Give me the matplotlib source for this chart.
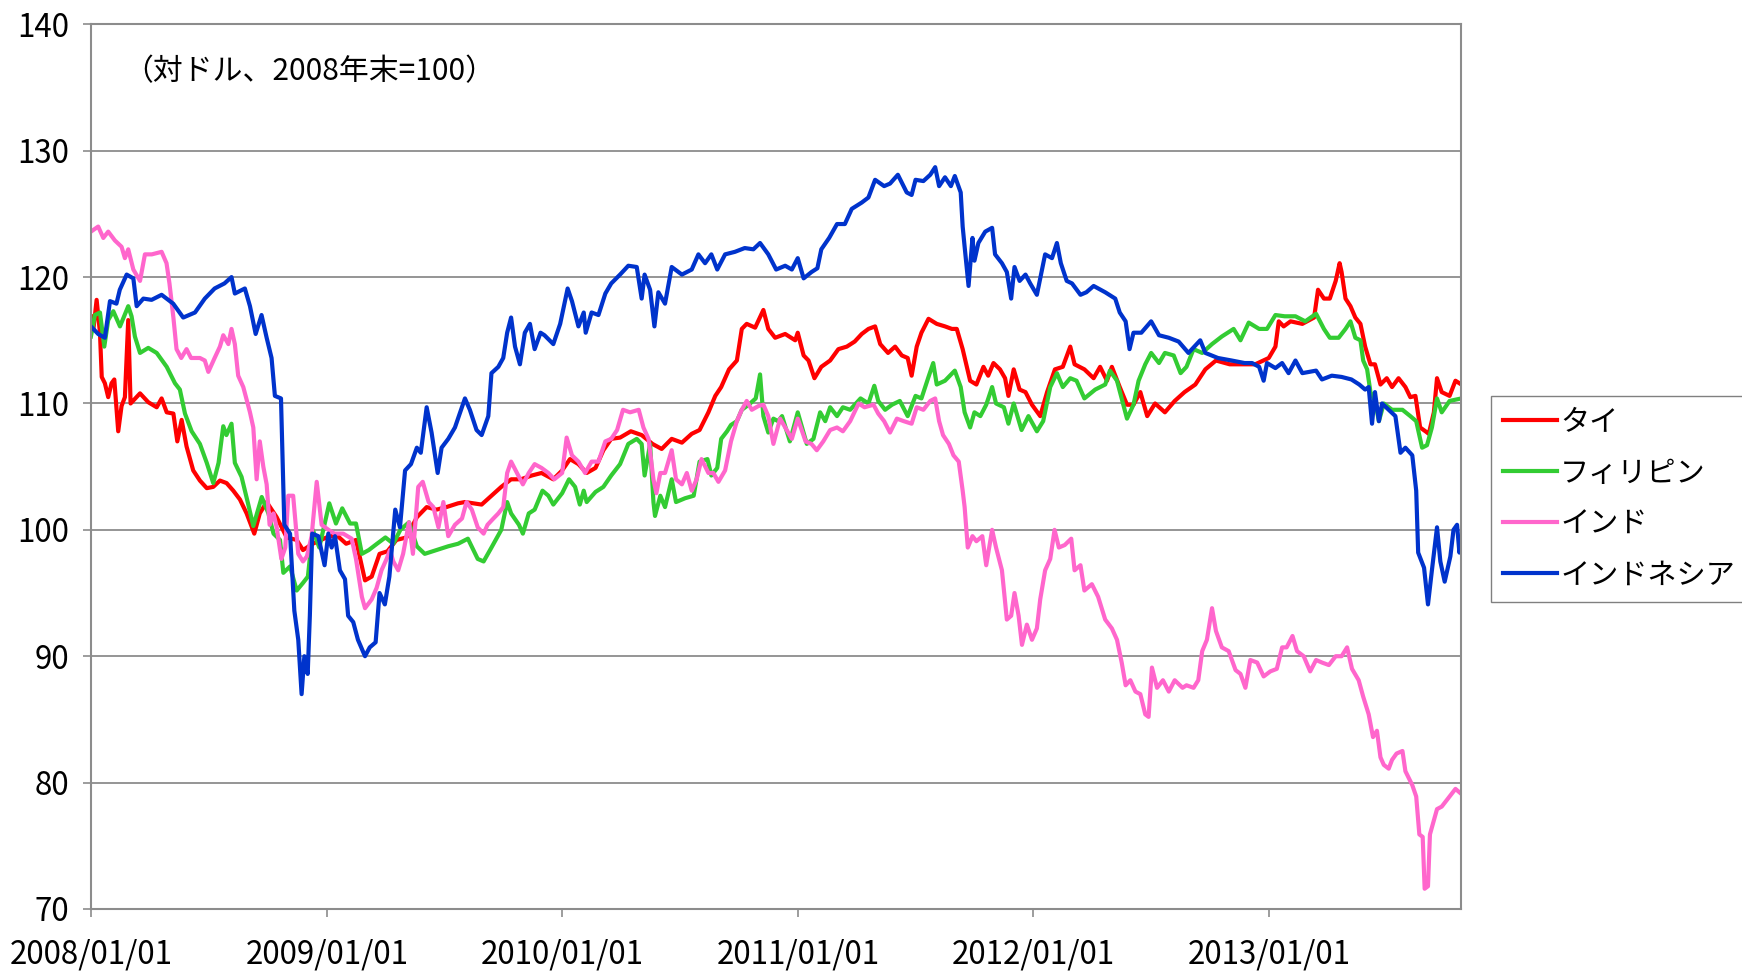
import matplotlib
matplotlib.use("Agg")
import matplotlib.pyplot as plt
import matplotlib.dates as mdates
import pandas as pd

plt.rcParams["font.family"] = ["Noto Sans CJK JP", "DejaVu Sans"]

# months elapsed since 2008/01/01 and index values (vs USD, end of 2008 = 100)
thai_months = [0, 0.12, 0.29, 0.46, 0.55, 0.71, 0.88, 1.05, 1.19, 1.39, 1.56, 1.73, 1.9, 2.02, 2.5, 2.92,
               3.35, 3.6, 3.86, 4.2, 4.4, 4.62, 4.87, 5.21, 5.55, 5.9, 6.23, 6.57, 6.91, 7.25, 7.59, 7.93,
               8.32, 8.6, 8.95, 9.46, 9.97, 10.48, 10.8, 11.3, 12.0, 12.5, 13.0, 13.5, 13.96, 14.3, 14.7,
               15.1, 15.56, 16.07, 16.6, 17.1, 17.6, 18.1, 18.7, 19.05, 19.9, 20.4, 20.9, 21.4, 21.9,
               22.45, 22.95, 23.55, 24.0, 24.4, 24.83, 25.25, 25.7, 26.1, 26.5, 26.95, 27.5, 28.05, 28.6,
               29.07, 29.58, 30.1, 30.6, 31.0, 31.45, 31.8, 32.1, 32.5, 32.9, 33.15, 33.4, 33.83, 34.25,
               34.5, 34.85, 35.36, 35.87, 36.0, 36.3, 36.55, 36.85, 37.2, 37.65, 38.07, 38.5, 38.9, 39.26,
               39.6, 39.94, 40.2, 40.6, 40.96, 41.3, 41.6, 41.8, 42.06, 42.3, 42.66, 43.08, 43.5, 43.85,
               44.1, 44.4, 44.78, 45.1, 45.46, 45.7, 45.97, 46.3, 46.56, 46.73, 47.0, 47.3, 47.6, 47.93,
               48.35, 48.7, 49.1, 49.5, 49.88, 50.1, 50.6, 51.07, 51.4, 51.75, 52.0, 52.4, 52.77, 53.1,
               53.45, 53.8, 54.2, 54.7, 55.2, 55.7, 56.25, 56.76, 57.3, 58.0, 58.76, 59.3, 59.99, 60.33,
               60.5, 60.75, 61.1, 61.7, 62.3, 62.5, 62.8, 63.1, 63.4, 63.6, 63.7, 63.9, 64.15, 64.4,
               64.66, 64.9, 65.17, 65.4, 65.68, 66.0, 66.27, 66.6, 66.95, 67.2, 67.46, 67.7, 67.97,
               68.14, 68.4, 68.56, 68.8, 69.2, 69.5, 69.8]
thai_values = [116.9, 115.8, 118.2, 115.6, 112.1, 111.6, 110.5, 111.6, 111.9, 107.8, 109.8, 110.5, 116.6,
               110.0, 110.8, 110.1, 109.7, 110.4, 109.3, 109.2, 107.0, 108.7, 106.6, 104.7, 103.9, 103.3,
               103.4, 103.9, 103.7, 103.1, 102.4, 101.3, 99.7, 101.3, 102.2, 101.0, 99.4, 99.2, 98.4, 98.9,
               99.4, 99.6, 98.9, 99.2, 96.0, 96.3, 98.1, 98.3, 99.2, 99.4, 101.0, 101.8, 101.6, 101.8,
               102.1, 102.2, 102.0, 102.7, 103.4, 104.0, 104.0, 104.3, 104.5, 104.0, 104.7, 105.6, 105.2,
               104.5, 104.9, 106.3, 107.2, 107.3, 107.8, 107.5, 106.8, 106.4, 107.2, 106.9, 107.6, 107.9,
               109.3, 110.6, 111.3, 112.7, 113.4, 115.9, 116.3, 116.0, 117.4, 115.9, 115.2, 115.5, 115.0,
               115.6, 113.8, 113.4, 112.0, 112.9, 113.4, 114.3, 114.5, 114.9, 115.5, 115.9, 116.1, 114.7,
               114.0, 114.5, 113.8, 113.6, 112.2, 114.5, 115.6, 116.7, 116.3, 116.1, 115.9, 115.9, 114.3,
               111.8, 111.5, 112.9, 112.2, 113.2, 112.7, 112.0, 110.6, 112.7, 111.1, 110.9, 109.9, 109.0,
               110.9, 112.7, 112.9, 114.5, 113.1, 112.7, 112.0, 112.9, 111.8, 112.9, 111.3, 109.9, 109.9,
               110.9, 109.0, 110.0, 109.3, 110.2, 110.9, 111.5, 112.7, 113.4, 113.1, 113.1, 113.1, 113.6,
               114.5, 116.5, 116.1, 116.5, 116.3, 116.8, 119.0, 118.3, 118.3, 119.7, 121.1, 120.4, 118.3,
               117.7, 116.8, 116.3, 114.5, 113.1, 113.1, 111.5, 112.0, 111.3, 112.0, 111.3, 110.5, 110.6,
               108.1, 107.8, 107.6, 109.3, 112.0, 110.9, 110.6, 111.8, 111.5]

phil_months = [0, 0.2, 0.46, 0.68, 0.88, 1.14, 1.48, 1.9, 2.07, 2.24, 2.5, 2.92, 3.35, 3.86, 4.28, 4.53,
               4.79, 5.13, 5.55, 5.9, 6.23, 6.5, 6.74, 6.9, 7.16, 7.33, 7.67, 8.0, 8.27, 8.7, 9.04, 9.3,
               9.63, 9.8, 10.14, 10.48, 10.8, 11.05, 11.3, 11.63, 12.14, 12.48, 12.8, 13.2, 13.5, 13.8,
               14.15, 14.57, 15.0, 15.4, 15.76, 16.2, 16.6, 17.0, 17.6, 18.2, 18.7, 19.2, 19.7, 20.0,
               20.4, 20.9, 21.2, 21.4, 21.8, 22.0, 22.3, 22.6, 23.0, 23.3, 23.55, 24.0, 24.35, 24.66,
               24.9, 25.1, 25.25, 25.7, 26.1, 26.5, 26.95, 27.37, 27.8, 28.05, 28.2, 28.48, 28.65, 28.73,
               29.0, 29.24, 29.58, 29.8, 30.26, 30.7, 31.0, 31.4, 31.6, 31.9, 32.1, 32.4, 32.6, 32.9,
               33.15, 33.5, 33.86, 34.08, 34.25, 34.5, 34.76, 35.0, 35.2, 35.6, 36.0, 36.46, 36.8, 37.14,
               37.4, 37.65, 38.0, 38.3, 38.67, 39.2, 39.6, 39.9, 40.1, 40.45, 40.8, 41.2, 41.6, 42.0,
               42.3, 42.66, 42.9, 43.08, 43.5, 44.0, 44.3, 44.5, 44.78, 45.0, 45.3, 45.6, 45.9, 46.1,
               46.5, 46.73, 47.0, 47.4, 47.75, 48.18, 48.5, 48.86, 49.2, 49.5, 49.88, 50.2, 50.6, 51.15,
               51.66, 51.9, 52.26, 52.5, 52.77, 53.1, 53.36, 53.7, 54.0, 54.4, 54.7, 55.15, 55.5, 55.8,
               56.16, 56.6, 57.1, 57.6, 58.2, 58.55, 58.97, 59.5, 59.9, 60.33, 60.8, 61.35, 61.85, 62.4,
               62.8, 63.1, 63.55, 63.9, 64.15, 64.4, 64.66, 64.8, 65.0, 65.17, 65.4, 65.6, 65.85, 66.27,
               66.8, 67.2, 67.5, 67.8, 68.05, 68.3, 68.56, 68.8, 69.2, 69.8]
phil_values = [115.3, 117.0, 117.2, 114.5, 116.6, 117.3, 116.1, 117.7, 116.9, 115.3, 114.0, 114.4, 114.0,
               112.9, 111.6, 111.1, 109.2, 107.8, 106.8, 105.3, 103.7, 105.3, 108.2, 107.5, 108.4, 105.3,
               104.2, 102.1, 100.3, 102.6, 101.3, 99.7, 99.2, 96.6, 97.1, 95.2, 95.8, 96.3, 100.0, 98.6,
               102.1, 100.5, 101.7, 100.5, 100.5, 98.1, 98.4, 98.9, 99.4, 98.9, 100.0, 100.6, 98.7, 98.1,
               98.4, 98.7, 98.9, 99.3, 97.7, 97.5, 98.6, 100.0, 102.2, 101.3, 100.4, 99.7, 101.3, 101.6,
               103.1, 102.7, 102.0, 102.9, 104.0, 103.4, 102.0, 103.1, 102.2, 103.0, 103.4, 104.3, 105.2,
               106.8, 107.2, 106.8, 104.3, 106.8, 102.2, 101.1, 102.7, 101.8, 104.0, 102.2, 102.5, 102.7,
               105.4, 105.6, 104.3, 104.9, 107.2, 107.8, 108.3, 108.6, 109.5, 109.9, 110.4, 112.3, 109.0,
               107.7, 108.8, 108.6, 109.0, 107.0, 109.3, 106.8, 107.2, 109.3, 108.6, 109.7, 109.0, 109.7,
               109.5, 110.4, 110.0, 111.4, 110.2, 109.5, 109.9, 110.2, 109.0, 110.6, 110.4, 112.1, 113.2,
               111.5, 111.8, 112.6, 111.3, 109.3, 108.1, 109.3, 109.0, 109.9, 111.3, 110.0, 109.7, 108.4,
               110.0, 107.9, 109.0, 107.8, 108.6, 111.3, 112.4, 111.3, 112.0, 111.8, 110.4, 111.1, 111.5,
               112.6, 111.8, 110.4, 108.8, 109.9, 111.8, 113.1, 114.0, 113.2, 114.0, 113.8, 112.4, 112.9,
               114.3, 114.0, 114.7, 115.3, 115.9, 115.0, 116.4, 115.9, 115.9, 117.0, 116.9, 116.9, 116.5,
               117.1, 115.9, 115.2, 115.2, 115.9, 116.5, 115.2, 115.0, 113.4, 112.7, 110.9, 110.2, 108.6,
               110.0, 109.5, 109.5, 109.0, 108.6, 106.5, 106.7, 108.1, 110.4, 109.3, 110.2, 110.4]

india_months = [0, 0.37, 0.63, 0.88, 1.22, 1.56, 1.73, 1.9, 2.16, 2.5, 2.75, 3.1, 3.6, 3.85, 4.0, 4.2,
                4.36, 4.6, 4.87, 5.1, 5.55, 5.8, 5.98, 6.3, 6.57, 6.74, 7.0, 7.16, 7.33, 7.5, 7.76, 8.1,
                8.27, 8.44, 8.6, 8.78, 8.95, 9.1, 9.3, 9.46, 9.7, 9.9, 10.05, 10.3, 10.56, 10.8, 11.0,
                11.24, 11.5, 11.75, 12.1, 12.4, 12.85, 13.28, 13.5, 13.8, 13.96, 14.3, 14.55, 14.8, 15.06,
                15.23, 15.4, 15.65, 15.9, 16.2, 16.4, 16.67, 16.9, 17.2, 17.44, 17.7, 17.95, 18.2, 18.54,
                18.9, 19.13, 19.4, 19.7, 20.0, 20.2, 20.5, 20.75, 21.0, 21.2, 21.4, 21.7, 22.0, 22.3,
                22.6, 22.95, 23.3, 23.6, 24.0, 24.23, 24.5, 24.83, 25.17, 25.5, 25.85, 26.2, 26.5, 26.8,
                27.1, 27.46, 27.9, 28.14, 28.4, 28.65, 28.8, 29.0, 29.24, 29.58, 29.8, 30.1, 30.35, 30.6,
                30.85, 31.1, 31.45, 31.7, 31.96, 32.3, 32.6, 32.9, 33.15, 33.4, 33.66, 34.0, 34.25, 34.5,
                34.76, 35.1, 35.36, 35.7, 36.0, 36.4, 36.7, 36.97, 37.3, 37.65, 38.0, 38.3, 38.67, 39.1,
                39.4, 39.86, 40.1, 40.4, 40.7, 41.05, 41.4, 41.8, 42.06, 42.4, 42.75, 43.0, 43.2, 43.4,
                43.7, 43.93, 44.2, 44.4, 44.5, 44.66, 44.9, 45.1, 45.4, 45.6, 45.9, 46.1, 46.4, 46.65,
                46.87, 47.04, 47.25, 47.42, 47.67, 47.93, 48.18, 48.35, 48.6, 48.86, 49.08, 49.3, 49.6,
                49.93, 50.1, 50.4, 50.6, 50.98, 51.3, 51.66, 52.0, 52.26, 52.5, 52.7, 52.94, 53.2, 53.45,
                53.7, 53.87, 54.04, 54.3, 54.6, 54.9, 55.2, 55.6, 55.8, 56.16, 56.4, 56.6, 56.84, 57.1,
                57.3, 57.6, 57.95, 58.3, 58.55, 58.8, 59.05, 59.4, 59.73, 60.07, 60.4, 60.67, 60.9, 61.2,
                61.43, 61.77, 62.1, 62.4, 62.7, 63.05, 63.4, 63.7, 63.98, 64.23, 64.57, 64.8, 65.08, 65.3,
                65.5, 65.68, 65.85, 66.1, 66.27, 66.5, 66.8, 66.95, 67.3, 67.5, 67.66, 67.83, 67.93, 68.1,
                68.2, 68.4, 68.56, 68.8, 69.2, 69.5, 69.8]
india_values = [123.6, 124.0, 123.1, 123.6, 122.9, 122.4, 121.5, 122.2, 120.6, 119.7, 121.8, 121.8, 122.0,
                121.1, 119.5, 116.8, 114.3, 113.6, 114.3, 113.6, 113.6, 113.4, 112.5, 113.6, 114.5, 115.4,
                114.7, 115.9, 114.7, 112.2, 111.3, 109.3, 108.1, 104.0, 107.0, 105.0, 103.6, 100.4, 101.3,
                100.2, 97.7, 98.6, 102.7, 102.7, 98.1, 97.5, 97.9, 99.5, 103.8, 100.4, 100.0, 99.7, 99.7,
                99.3, 97.7, 94.7, 93.8, 94.5, 95.4, 96.8, 97.7, 98.4, 97.5, 96.8, 98.1, 100.6, 98.1, 103.4,
                103.8, 102.2, 101.8, 100.2, 102.2, 99.5, 100.4, 100.9, 102.2, 101.6, 100.2, 99.7, 100.4,
                100.9, 101.3, 101.8, 104.5, 105.4, 104.5, 103.6, 104.5, 105.2, 104.9, 104.5, 104.0, 104.5,
                107.3, 105.9, 105.4, 104.5, 105.4, 105.4, 107.0, 107.2, 107.9, 109.5, 109.3, 109.5, 108.1,
                107.2, 104.0, 102.9, 104.5, 104.5, 106.3, 104.0, 103.6, 104.5, 103.1, 104.0, 105.6, 104.5,
                104.5, 103.8, 104.7, 107.0, 108.6, 109.5, 110.2, 109.5, 109.8, 109.9, 109.0, 106.8, 108.8,
                108.1, 107.2, 108.8, 107.0, 106.8, 106.3, 107.0, 107.9, 108.1, 107.8, 108.6, 110.0, 109.7,
                109.9, 109.2, 108.6, 107.7, 108.8, 108.6, 108.4, 109.7, 109.5, 110.2, 110.4, 108.6, 107.5,
                106.8, 105.9, 105.4, 103.1, 101.8, 98.6, 99.5, 99.1, 99.5, 97.2, 100.0, 98.6, 96.8, 92.9,
                93.2, 95.0, 93.2, 90.9, 92.5, 91.3, 92.2, 94.5, 96.8, 97.7, 100.0, 98.6, 98.8, 99.3, 96.8,
                97.2, 95.2, 95.7, 94.7, 92.9, 92.2, 91.3, 89.5, 87.7, 88.1, 87.2, 87.0, 85.4, 85.2, 89.1,
                87.5, 88.1, 87.2, 88.1, 87.5, 87.7, 87.5, 88.1, 90.4, 91.3, 93.8, 92.0, 90.7, 90.4, 88.9,
                88.6, 87.5, 89.7, 89.5, 88.4, 88.8, 89.0, 90.7, 90.7, 91.6, 90.4, 90.0, 88.8, 89.7, 89.5,
                89.3, 90.0, 90.0, 90.7, 89.0, 88.1, 86.8, 85.4, 83.6, 84.1, 82.0, 81.4, 81.1, 81.8, 82.3,
                82.5, 80.9, 79.8, 78.9, 75.9, 75.7, 71.6, 71.8, 75.9, 77.0, 77.9, 78.1, 78.9, 79.5, 79.1]

indo_months = [0, 0.37, 0.71, 0.97, 1.3, 1.47, 1.82, 2.16, 2.33, 2.67, 3.09, 3.6, 4.19, 4.7, 5.3, 5.8,
               6.3, 6.8, 7.16, 7.33, 7.84, 8.1, 8.39, 8.69, 8.95, 9.2, 9.37, 9.68, 9.85, 10.14, 10.36,
               10.56, 10.73, 10.87, 11.04, 11.15, 11.27, 11.58, 11.9, 12.09, 12.26, 12.43, 12.68, 12.94,
               13.1, 13.36, 13.6, 13.96, 14.2, 14.5, 14.7, 14.97, 15.2, 15.5, 15.74, 16.0, 16.3, 16.6,
               16.8, 17.1, 17.35, 17.66, 17.86, 18.2, 18.54, 19.05, 19.3, 19.64, 19.9, 20.24, 20.4,
               20.75, 21.0, 21.2, 21.4, 21.6, 21.85, 22.1, 22.36, 22.6, 22.9, 23.1, 23.55, 23.9, 24.28,
               24.5, 24.83, 25.1, 25.2, 25.5, 25.85, 26.2, 26.5, 26.95, 27.37, 27.8, 28.05, 28.2, 28.48,
               28.7, 28.9, 29.24, 29.58, 30.1, 30.6, 30.94, 31.28, 31.6, 31.9, 32.3, 32.8, 33.3, 33.74,
               34.08, 34.5, 34.9, 35.36, 35.7, 36.0, 36.3, 36.7, 37.0, 37.2, 37.6, 38.0, 38.4, 38.75,
               39.26, 39.6, 39.94, 40.4, 40.7, 41.1, 41.55, 41.8, 42.0, 42.4, 42.75, 43.0, 43.2, 43.5,
               43.8, 44.0, 44.3, 44.4, 44.5, 44.7, 44.9, 45.0, 45.2, 45.55, 45.9, 46.05, 46.4, 46.65,
               46.87, 47.04, 47.3, 47.6, 47.84, 48.18, 48.35, 48.6, 48.95, 49.2, 49.4, 49.7, 49.97, 50.4,
               50.7, 51.07, 51.66, 52.17, 52.4, 52.7, 52.9, 53.1, 53.5, 54.0, 54.4, 54.9, 55.4, 55.9,
               56.5, 56.76, 57.4, 58.1, 58.76, 59.14, 59.5, 59.73, 59.9, 60.33, 60.67, 61.0, 61.35, 61.7,
               62.4, 62.7, 63.2, 63.7, 64.2, 64.6, 64.9, 65.08, 65.25, 65.4, 65.6, 65.76, 66.1, 66.44,
               66.7, 66.95, 67.3, 67.5, 67.6, 67.9, 68.1, 68.3, 68.56, 68.73, 68.95, 69.24, 69.4, 69.58,
               69.7, 69.8]
indo_values = [116.1, 115.5, 115.2, 118.1, 117.9, 119.0, 120.2, 119.9, 117.7, 118.3, 118.2, 118.6, 117.9,
               116.8, 117.2, 118.3, 119.1, 119.5, 120.0, 118.7, 119.1, 117.7, 115.5, 117.0, 115.2, 113.6,
               110.6, 110.4, 100.4, 99.7, 93.6, 91.3, 87.0, 90.0, 88.6, 93.2, 99.7, 99.5, 97.2, 99.7, 98.6,
               99.5, 96.8, 96.1, 93.2, 92.7, 91.3, 90.0, 90.7, 91.1, 95.0, 94.1, 96.3, 101.6, 100.2, 104.7,
               105.2, 106.5, 106.1, 109.7, 107.7, 104.5, 106.5, 107.2, 108.1, 110.4, 109.5, 107.9, 107.5,
               109.0, 112.4, 112.9, 113.6, 115.6, 116.8, 114.5, 113.1, 115.6, 116.3, 114.3, 115.6, 115.4,
               114.7, 116.3, 119.1, 118.1, 116.1, 117.2, 115.6, 117.2, 117.0, 118.7, 119.5, 120.2, 120.9,
               120.8, 118.3, 120.2, 119.0, 116.1, 118.8, 117.9, 120.8, 120.2, 120.6, 121.8, 121.1, 121.8,
               120.6, 121.8, 122.0, 122.3, 122.2, 122.7, 121.8, 120.6, 120.9, 120.6, 121.5, 119.9, 120.4,
               120.7, 122.2, 123.1, 124.2, 124.2, 125.4, 125.9, 126.3, 127.7, 127.2, 127.4, 128.1, 126.7,
               126.5, 127.7, 127.6, 128.1, 128.7, 127.2, 127.9, 127.2, 128.0, 126.7, 124.0, 122.4, 119.3,
               123.1, 121.3, 122.7, 123.6, 123.9, 121.8, 121.1, 120.4, 118.3, 120.8, 119.7, 120.2, 119.5,
               118.6, 119.9, 121.8, 121.5, 122.7, 121.1, 119.7, 119.5, 118.6, 118.8, 119.3, 118.8, 118.3,
               117.2, 116.5, 114.3, 115.6, 115.6, 116.5, 115.4, 115.2, 114.9, 114.0, 115.0, 114.0, 113.6,
               113.4, 113.2, 113.2, 112.9, 111.8, 113.2, 112.8, 113.2, 112.4, 113.4, 112.4, 112.6, 111.9,
               112.2, 112.1, 111.9, 111.5, 111.1, 111.3, 108.4, 110.9, 108.6, 110.0, 109.5, 109.0, 106.1,
               106.5, 105.9, 103.1, 98.2, 97.0, 94.1, 96.8, 100.2, 97.5, 95.9, 97.9, 100.0, 100.4, 98.2,
               99.3]

series_names = ["タイ", "フィリピン", "インド", "インドネシア"]
series_colors = ["#ff0000", "#33cc33", "#ff66cc", "#0033cc"]
y_ticks = [70, 80, 90, 100, 110, 120, 130, 140]
x_tick_years = [2008, 2009, 2010, 2011, 2012, 2013]
note_text = "（対ドル、2008年末=100）"


def to_dates(months):
    # month offsets -> real dates
    start = pd.Timestamp("2008-01-01")
    return [start + pd.Timedelta(days=m * 30.4375) for m in months]


fig = plt.figure(figsize=(17.42, 9.71), dpi=100)
ax = fig.add_axes([0.0522, 0.0639, 0.7865, 0.911])

grid_color = "#8c8c8c"
all_series = [(thai_months, thai_values), (phil_months, phil_values),
              (india_months, india_values), (indo_months, indo_values)]
for (months, values), name, color in zip(all_series, series_names, series_colors):
    ax.plot(to_dates(months), values, color=color, linewidth=3.0, label=name,
            solid_joinstyle="round")

ax.set_ylim(70, 140)
ax.set_yticks(y_ticks)
ax.set_xlim(pd.Timestamp("2008-01-01"), pd.Timestamp("2013-10-25"))
ax.set_xticks([pd.Timestamp(f"{y}-01-01") for y in x_tick_years])
ax.xaxis.set_major_formatter(mdates.DateFormatter("%Y/%m/%d"))

# horizontal gridlines only
ax.yaxis.grid(True, color=grid_color, linewidth=1.3)
ax.set_axisbelow(True)
for side in ["left", "right", "top", "bottom"]:
    ax.spines[side].set_color(grid_color)
    ax.spines[side].set_linewidth(1.5)

ax.tick_params(axis="both", direction="out", length=6, width=1.2, color=grid_color,
               labelsize=22.5, labelcolor="black")
ax.tick_params(axis="y", pad=9.5)
ax.tick_params(axis="x", pad=15)

ax.text(0.0234, 0.947, note_text, transform=ax.transAxes, fontsize=21.5, va="center", ha="left")

fig.legend(loc="upper left", bbox_to_anchor=(1491 / 1742, 1 - 396 / 971), fontsize=21,
           frameon=True, fancybox=False, edgecolor="#808080", framealpha=1,
           handlelength=1.85, handletextpad=0.12, labelspacing=0.72, borderpad=0.4,
           borderaxespad=0)

fig.savefig("out.png", dpi=100)
